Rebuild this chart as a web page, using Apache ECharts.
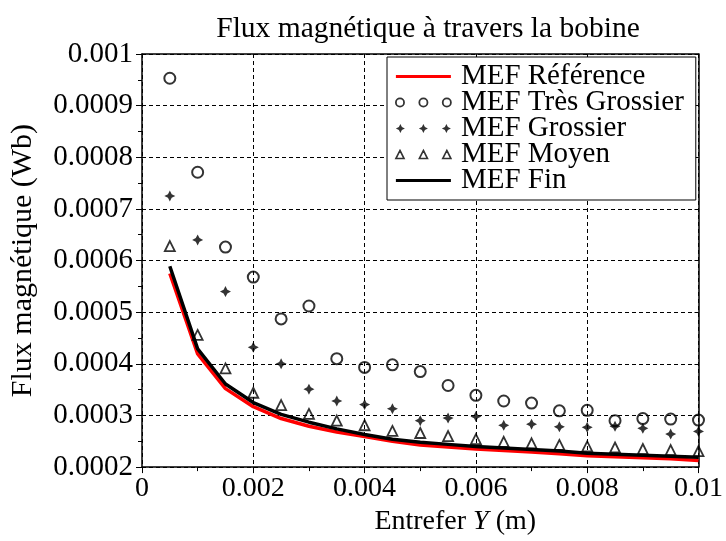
<!DOCTYPE html>
<html>
<head>
<meta charset="utf-8">
<title>Flux magnétique à travers la bobine</title>
<script src="https://cdn.jsdelivr.net/npm/echarts@6/dist/echarts.min.js"></script>
<style>
  html, body { margin: 0; padding: 0; background: #fff; }
  #chart { width: 726px; height: 541px; }
</style>
</head>
<body>
<div id="chart"></div>
<script>
// air gap Y (m)
const entrefer = [0.0005, 0.001, 0.0015, 0.002, 0.0025, 0.003, 0.0035, 0.004, 0.0045, 0.005,
  0.0055, 0.006, 0.0065, 0.007, 0.0075, 0.008, 0.0085, 0.009, 0.0095, 0.01]

// flux (Wb)
const fluxReference = [0.000575, 0.000419, 0.000352, 0.000317, 0.000294, 0.000279, 0.000268, 0.000259, 0.00025, 0.000243,
  0.000239, 0.000235, 0.000232, 0.000229, 0.000226, 0.000222, 0.00022, 0.000218, 0.000216, 0.000213]
const fluxTresGrossier = [0.000953, 0.000771, 0.000626, 0.000568, 0.000487, 0.000512, 0.00041, 0.000393, 0.000398, 0.000385,
  0.000358, 0.000339, 0.000328, 0.000324, 0.000309, 0.00031, 0.00029, 0.000294, 0.000293, 0.000291]
const fluxGrossier = [0.000725, 0.00064, 0.00054, 0.000432, 0.0004, 0.000351, 0.000328, 0.000321, 0.000313, 0.00029,
  0.000295, 0.000298, 0.000281, 0.000283, 0.000278, 0.000277, 0.000279, 0.000275, 0.000264, 0.000269]
const fluxMoyen = [0.000628, 0.000456, 0.000391, 0.000344, 0.00032, 0.000303, 0.00029, 0.000281, 0.00027, 0.000266,
  0.00026, 0.000254, 0.000249, 0.000246, 0.000243, 0.00024, 0.000238, 0.000235, 0.000233, 0.000231]
const fluxFin = [0.000589, 0.000429, 0.000361, 0.000325, 0.000302, 0.000287, 0.000274, 0.000263, 0.000254, 0.000248,
  0.000244, 0.00024, 0.000237, 0.000234, 0.000231, 0.000227, 0.000225, 0.000223, 0.000221, 0.000219]

const seriesNames = ['MEF Référence', 'MEF Très Grossier', 'MEF Grossier', 'MEF Moyen', 'MEF Fin']

const FONT = 'Liberation Serif'

const starPath = 'path://M5,0 L6.7,3.3 L10,5 L6.7,6.7 L5,10 L3.3,6.7 L0,5 L3.3,3.3 Z'
// legend icons: three markers in a row, or a plain stroke for the lines
const lineIcon = 'path://M0,0 M55,10 M0,3.5 L55,3.5 L55,6.5 L0,6.5 Z'
const circles3 = 'path://M0.5,5 a4,4 0 1,0 8,0 a4,4 0 1,0 -8,0 Z M23.5,5 a4,4 0 1,0 8,0 a4,4 0 1,0 -8,0 Z M46.5,5 a4,4 0 1,0 8,0 a4,4 0 1,0 -8,0 Z'
const stars3 = 'path://M4.5,0.5 L6,3.5 L9,5 L6,6.5 L4.5,9.5 L3,6.5 L0,5 L3,3.5 Z M27.5,0.5 L29,3.5 L32,5 L29,6.5 L27.5,9.5 L26,6.5 L23,5 L26,3.5 Z M50.5,0.5 L52,3.5 L55,5 L52,6.5 L50.5,9.5 L49,6.5 L46,5 L49,3.5 Z'
const tris3 = 'path://M4.5,1 L8.5,9 L0.5,9 Z M27.5,1 L31.5,9 L23.5,9 Z M50.5,1 L54.5,9 L46.5,9 Z'

function pairs(ys) {
  return entrefer.map((x, i) => [x, ys[i]])
}

const chart = echarts.init(document.getElementById('chart'))

chart.setOption({
  animation: false,
  backgroundColor: '#fff',
  textStyle: { fontFamily: FONT, color: '#000' },
  title: {
    text: 'Flux magnétique à travers la bobine',
    left: 423,
    top: 9,
    textAlign: 'center',
    textStyle: { fontFamily: FONT, fontSize: 29.5, fontWeight: 'normal', color: '#000' },
  },
  grid: {
    left: 142,
    right: 22,
    top: 54,
    bottom: 63,
  },
  legend: {
    orient: 'vertical',
    left: 387,
    top: 57,
    padding: [5, 12, 5, 8],
    itemGap: -3,
    itemWidth: 55,
    itemHeight: 10,
    backgroundColor: '#fff',
    borderColor: '#000',
    borderWidth: 1,
    borderRadius: 0,
    textStyle: { fontFamily: FONT, fontSize: 29, color: '#000', padding: [0, 0, 0, 5] },
    data: [
      { name: seriesNames[0], icon: lineIcon },
      { name: seriesNames[1], icon: circles3, itemStyle: { borderWidth: 1.8 } },
      { name: seriesNames[2], icon: stars3 },
      { name: seriesNames[3], icon: tris3, itemStyle: { borderWidth: 1.6 } },
      { name: seriesNames[4], icon: lineIcon },
    ],
  },
  xAxis: [
    {
      type: 'value',
      min: 0,
      max: 0.01,
      interval: 0.002,
      name: '{n|Entrefer }{i|Y}{n| (m)}',
      nameLocation: 'middle',
      nameGap: 30,
      nameTextStyle: {
        padding: [0, 0, 0, 70],
        rich: {
          n: { fontFamily: FONT, fontSize: 28, color: '#000' },
          i: { fontFamily: FONT, fontSize: 28, color: '#000', fontStyle: 'italic' },
        },
      },
      axisLine: { onZero: false, lineStyle: { color: '#000', width: 1.5 } },
      axisTick: { inside: false, length: 6, lineStyle: { color: '#000' } },
      minorTick: { show: true, splitNumber: 2, length: 4, lineStyle: { color: '#000' } },
      axisLabel: {
        fontFamily: FONT,
        fontSize: 28,
        color: '#000',
        margin: 8,
        formatter: (v) => String(+v.toFixed(3)),
      },
      splitLine: { show: true, lineStyle: { color: '#000', type: [4, 3], width: 1 } },
    },
    {
      type: 'value',
      position: 'top',
      min: 0,
      max: 0.01,
      interval: 0.002,
      axisLine: { show: true, onZero: false, lineStyle: { color: '#000', width: 1.5 } },
      axisTick: { show: false },
      axisLabel: { show: false },
      splitLine: { show: false },
    },
  ],
  yAxis: [
    {
      type: 'value',
      min: 0.0002,
      max: 0.001,
      interval: 0.0001,
      name: 'Flux magnétique (Wb)',
      nameLocation: 'middle',
      nameGap: 104,
      nameTextStyle: { fontFamily: FONT, fontSize: 30, color: '#000' },
      axisLine: { show: true, onZero: false, lineStyle: { color: '#000', width: 1.5 } },
      axisTick: { inside: false, length: 6, lineStyle: { color: '#000' } },
      minorTick: { show: true, splitNumber: 2, length: 4, lineStyle: { color: '#000' } },
      axisLabel: {
        fontFamily: FONT,
        fontSize: 29,
        color: '#000',
        margin: 9,
        formatter: (v) => String(+v.toFixed(4)),
      },
      splitLine: { show: true, lineStyle: { color: '#000', type: [4, 3], width: 1 } },
    },
    {
      type: 'value',
      position: 'right',
      min: 0.0002,
      max: 0.001,
      interval: 0.0001,
      axisLine: { show: true, onZero: false, lineStyle: { color: '#000', width: 1.5 } },
      axisTick: { show: true, inside: true, length: 4, lineStyle: { color: '#000' } },
      axisLabel: { show: false },
      splitLine: { show: false },
    },
  ],
  series: [
    {
      name: seriesNames[0],
      type: 'line',
      data: pairs(fluxReference),
      symbol: 'none',
      lineStyle: { color: '#ff0000', width: 3.5 },
      itemStyle: { color: '#ff0000' },
      z: 3,
    },
    {
      name: seriesNames[1],
      type: 'scatter',
      data: pairs(fluxTresGrossier),
      symbol: 'circle',
      symbolSize: 11,
      itemStyle: { color: 'rgba(0,0,0,0)', borderColor: '#000', borderWidth: 2 },
      z: 5,
    },
    {
      name: seriesNames[2],
      type: 'scatter',
      data: pairs(fluxGrossier),
      symbol: starPath,
      symbolSize: 11,
      itemStyle: { color: '#000' },
      z: 5,
    },
    {
      name: seriesNames[3],
      type: 'scatter',
      data: pairs(fluxMoyen),
      symbol: 'triangle',
      symbolSize: 10,
      itemStyle: { color: 'rgba(0,0,0,0)', borderColor: '#000', borderWidth: 1.8 },
      z: 5,
    },
    {
      name: seriesNames[4],
      type: 'line',
      data: pairs(fluxFin),
      symbol: 'none',
      lineStyle: { color: '#000', width: 3.5 },
      itemStyle: { color: '#000' },
      z: 4,
    },
  ],
})
</script>
</body>
</html>
